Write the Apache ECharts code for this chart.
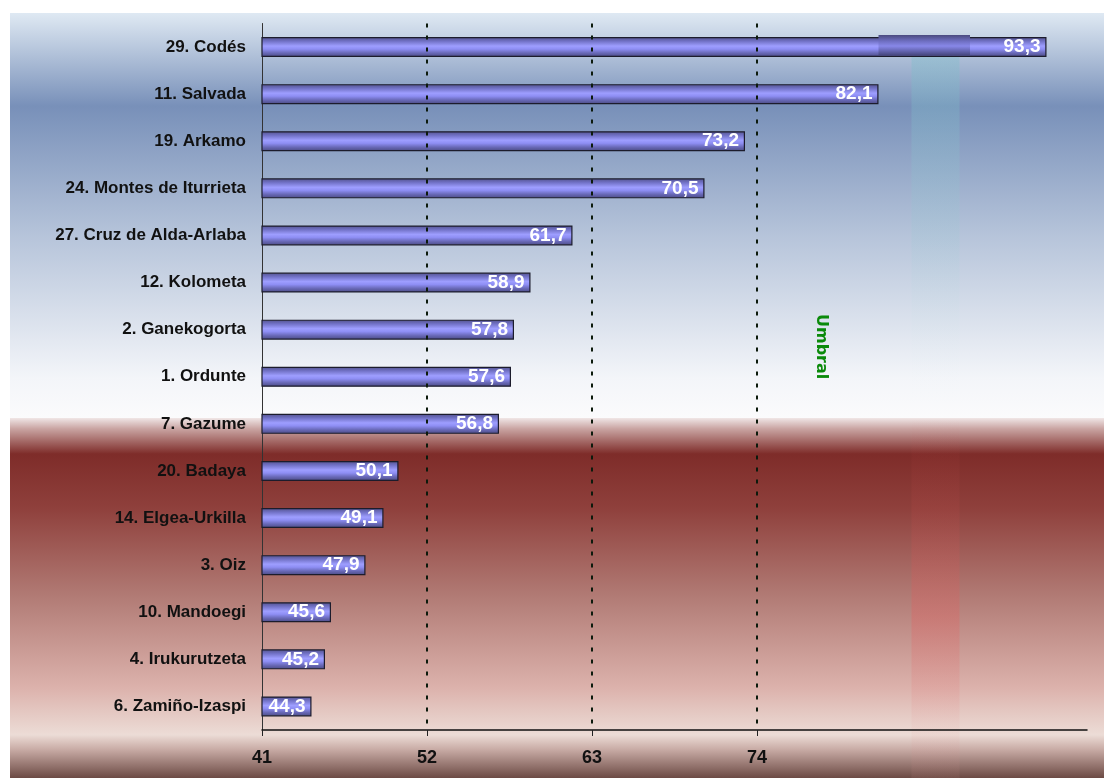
<!DOCTYPE html>
<html>
<head>
<meta charset="utf-8">
<style>
  html, body { margin: 0; padding: 0; background: #ffffff; }
  #chart { width: 1104px; height: 778px; }
</style>
<script src="https://cdn.jsdelivr.net/npm/echarts@6/dist/echarts.min.js"></script>
</head>
<body>
<div id="chart"></div>
<script>
// Wind sites ranked by value
const sites = [
  '29. Codés', '11. Salvada', '19. Arkamo', '24. Montes de Iturrieta',
  '27. Cruz de Alda-Arlaba', '12. Kolometa', '2. Ganekogorta', '1. Ordunte',
  '7. Gazume', '20. Badaya', '14. Elgea-Urkilla', '3. Oiz', '10. Mandoegi',
  '4. Irukurutzeta', '6. Zamiño-Izaspi'
];
const values = [93.3, 82.1, 73.2, 70.5, 61.7, 58.9, 57.8, 57.6, 56.8, 50.1, 49.1, 47.9, 45.6, 45.2, 44.3];
const xTicks = [41, 52, 63, 74];
const refLines = [52, 63, 74];
const thresholdLabel = 'Umbral';
const thresholdBand = [84.3, 87.5];

const chart = echarts.init(document.getElementById('chart'));

const barFill = new echarts.graphic.LinearGradient(0, 0, 0, 1, [
  { offset: 0, color: '#52528a' },
  { offset: 0.2, color: '#7070c4' },
  { offset: 0.45, color: '#9e9eff' },
  { offset: 0.6, color: '#8e8ef4' },
  { offset: 0.8, color: '#6868b6' },
  { offset: 1, color: '#4a4a82' }
]);

// Panel backdrop: cool upper half, warm lower half
const backdrop = [
  {
    type: 'rect', z: -10, silent: true,
    shape: { x: 10, y: 13, width: 1094, height: 405 },
    style: {
      fill: new echarts.graphic.LinearGradient(0, 0, 0, 1, [
        { offset: 0, color: '#dfe9f3' },
        { offset: 0.23, color: '#7890b9' },
        { offset: 0.55, color: '#b6c4da' },
        { offset: 0.9, color: '#f3f5f9' },
        { offset: 1, color: '#fbfbfc' }
      ])
    }
  },
  {
    type: 'rect', z: -10, silent: true,
    shape: { x: 10, y: 418, width: 1094, height: 360 },
    style: {
      fill: new echarts.graphic.LinearGradient(0, 0, 0, 1, [
        { offset: 0, color: '#f0e6e6' },
        { offset: 0.03, color: '#c9a4a2' },
        { offset: 0.1, color: '#7e2c29' },
        { offset: 0.25, color: '#8f403c' },
        { offset: 0.5, color: '#b27c76' },
        { offset: 0.75, color: '#dcb2ac' },
        { offset: 0.88, color: '#ecdcd6' },
        { offset: 0.92, color: '#c9aca6' },
        { offset: 1, color: '#6c4a44' }
      ])
    }
  }
];

chart.setOption({
  animation: false,
  graphic: backdrop,
  grid: { left: 262, right: 17, top: 23.5, bottom: 48, containLabel: false },
  xAxis: {
    type: 'value',
    min: 41, max: 96, interval: 11,
    axisLine: { show: true, lineStyle: { color: '#111', width: 1.5 } },
    axisTick: { show: true, customValues: xTicks, length: 6, lineStyle: { color: '#222' } },
    axisLabel: {
      customValues: xTicks, margin: 19,
      color: '#111', fontFamily: 'Liberation Sans, Arial, sans-serif', fontWeight: 'bold', fontSize: 18
    },
    splitLine: { show: false }
  },
  yAxis: {
    type: 'category',
    data: sites,
    inverse: true,
    axisLine: { show: true, lineStyle: { color: '#333', width: 1 } },
    axisTick: { show: false },
    axisLabel: {
      margin: 16, color: '#111',
      fontFamily: 'Liberation Sans, Arial, sans-serif', fontWeight: 'bold', fontSize: 17
    }
  },
  series: [{
    type: 'bar',
    data: values,
    barWidth: 20,
    itemStyle: { color: barFill, borderColor: '#1c1c2c', borderWidth: 1.2 },
    label: {
      show: true, position: 'insideRight', distance: 6,
      color: '#ffffff', fontFamily: 'Liberation Sans, Arial, sans-serif',
      fontWeight: 'bold', fontSize: 19,
      formatter: p => p.value.toFixed(1).replace('.', ',')
    },
    markLine: {
      silent: true, symbol: 'none',
      label: { show: false },
      lineStyle: { color: '#0c1a0c', type: [4, 8], width: 2 },
      data: refLines.map(v => ({ xAxis: v }))
    },
    z: 3
  }]
});

// Threshold band and its caption, placed from axis values
function drawOverlay() {
  const bx0 = chart.convertToPixel({ xAxisIndex: 0 }, thresholdBand[0]);
  const bx1 = chart.convertToPixel({ xAxisIndex: 0 }, thresholdBand[1]);
  const topBarY = chart.convertToPixel({ yAxisIndex: 0 }, sites[0]);
  const capX = chart.convertToPixel({ xAxisIndex: 0 }, 78.3);
  const rowA = chart.convertToPixel({ yAxisIndex: 0 }, sites[6]);
  const rowB = chart.convertToPixel({ yAxisIndex: 0 }, sites[7]);
  const capY = rowA + 0.36 * (rowB - rowA);
  const capStart = chart.convertToPixel({ xAxisIndex: 0 }, values[1]);
  const capEnd = chart.convertToPixel({ xAxisIndex: 0 }, 88.2);
  const splitY = 418;
  chart.setOption({
    graphic: backdrop.concat([
      {
        type: 'rect', z: -5, silent: true,
        shape: { x: bx0, y: topBarY + 10, width: bx1 - bx0, height: splitY - topBarY - 10 },
        style: {
          fill: new echarts.graphic.LinearGradient(0, 0, 0, 1, [
            { offset: 0, color: 'rgba(120,190,200,0.35)' },
            { offset: 0.5, color: 'rgba(150,200,210,0.18)' },
            { offset: 1, color: 'rgba(255,255,255,0)' }
          ])
        }
      },
      {
        type: 'rect', z: -5, silent: true,
        shape: { x: bx0, y: splitY, width: bx1 - bx0, height: 778 - splitY },
        style: {
          fill: new echarts.graphic.LinearGradient(0, 0, 0, 1, [
            { offset: 0, color: 'rgba(230,90,90,0)' },
            { offset: 0.3, color: 'rgba(220,80,80,0.12)' },
            { offset: 0.55, color: 'rgba(230,90,90,0.3)' },
            { offset: 0.85, color: 'rgba(230,110,110,0.05)' },
            { offset: 1, color: 'rgba(230,160,160,0.08)' }
          ])
        }
      },
      {
        type: 'rect', z: 10, silent: true,
        shape: { x: capStart, y: topBarY - 12, width: capEnd - capStart, height: 20 },
        style: {
          fill: new echarts.graphic.LinearGradient(0, 0, 0, 1, [
            { offset: 0, color: '#4a4a80' },
            { offset: 0.3, color: '#6e6ec0' },
            { offset: 0.55, color: '#8888e8' },
            { offset: 0.8, color: '#6464b0' },
            { offset: 1, color: '#484880' }
          ])
        }
      },
      {
        type: 'text', z: 20, silent: true,
        x: capX, y: capY, rotation: -Math.PI / 2,
        style: {
          text: thresholdLabel, fill: '#0a8a0a',
          font: 'bold 16px "DejaVu Sans", sans-serif',
          align: 'center', verticalAlign: 'middle'
        }
      }
    ])
  });
}
drawOverlay();
</script>
</body>
</html>
